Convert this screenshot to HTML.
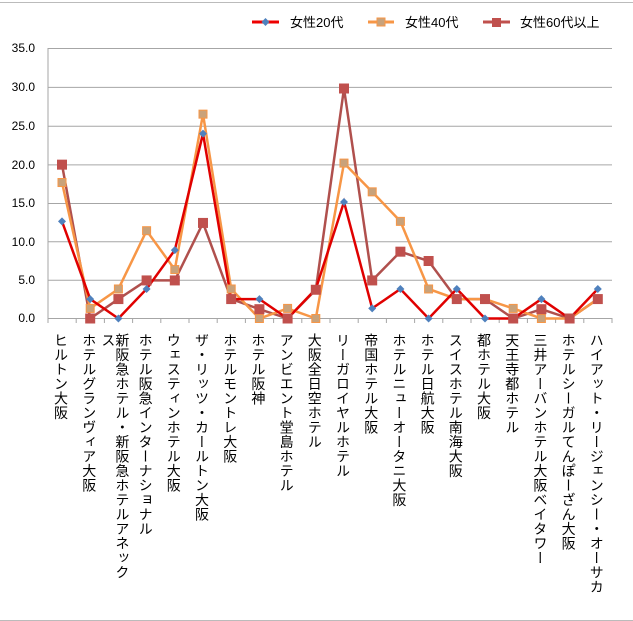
<!DOCTYPE html>
<html><head><meta charset="utf-8"><style>
body{margin:0;width:633px;height:621px;background:#fff;overflow:hidden;position:relative;font-family:"Liberation Sans","Noto Sans CJK JP",sans-serif}
.lab{position:absolute;top:333px;writing-mode:vertical-rl;font-size:14px;line-height:14px;color:#000;height:262px;transform:translateX(-50%);letter-spacing:0.5px}
</style></head><body>
<div style="position:absolute;left:0;top:2px;width:633px;height:617px;border-top:1px solid #bbb;border-bottom:1px solid #bbb"></div>
<svg width="633" height="621" style="position:absolute;left:0;top:0" font-family="Liberation Sans, sans-serif">
<g stroke="#a6a6a6" stroke-width="1">
<line x1="48" x2="612" y1="48.5" y2="48.5"/><line x1="48" x2="612" y1="87.4" y2="87.4"/><line x1="48" x2="612" y1="126.2" y2="126.2"/><line x1="48" x2="612" y1="164.9" y2="164.9"/><line x1="48" x2="612" y1="203.5" y2="203.5"/><line x1="48" x2="612" y1="241.8" y2="241.8"/><line x1="48" x2="612" y1="280.2" y2="280.2"/><line x1="48" x2="612" y1="318.5" y2="318.5"/>
<line x1="48" x2="48" y1="48" y2="322"/>
</g>
<g font-size="12" text-anchor="end" fill="#000">
<text x="35" y="52">35.0</text><text x="35" y="91">30.0</text><text x="35" y="130">25.0</text><text x="35" y="169">20.0</text><text x="35" y="207">15.0</text><text x="35" y="246">10.0</text><text x="35" y="284">5.0</text><text x="35" y="322">0.0</text>
</g>
<g id="ticks" stroke="#a6a6a6"></g>
<g id="series"></g>
<g>
<line x1="252" x2="279" y1="22" y2="22" stroke="#e00" stroke-width="3"/><path d="M265.5 18l4 4-4 4-4-4z" fill="#4f81bd"/>
<line x1="368" x2="394" y1="22" y2="22" stroke="#f79646" stroke-width="3"/><rect x="377" y="18" width="8" height="8" fill="#c9a27a" stroke="#f79646"/>
<line x1="483" x2="510" y1="22" y2="22" stroke="#c0504d" stroke-width="3"/><rect x="492" y="18" width="9" height="9" fill="#c0504d"/>
</g>
<g font-size="13" fill="#000" font-family="Liberation Sans, Noto Sans CJK JP, sans-serif">
<text x="290" y="27">女性20代</text><text x="405" y="27">女性40代</text><text x="520" y="27">女性60代以上</text>
</g>
</svg>
<div id="labs"></div>
<script>
var a=[12.5,2.5,0,3.8,8.8,23.8,2.5,2.5,0,3.8,15,1.3,3.8,0,3.8,0,0,2.5,0,3.8];
var b=[17.5,1.3,3.8,11.3,6.3,26.3,3.8,0,1.3,0,20,16.3,12.5,3.8,2.5,2.5,1.3,0,0,2.5];
var c=[19.8,0,2.5,4.9,4.9,12.3,2.5,1.2,0,3.7,29.6,4.9,8.6,7.4,2.5,2.5,0,1.2,0,2.5];
var names=["ヒルトン大阪","ホテルグランヴィア大阪","新阪急ホテル・新阪急ホテルアネックス","ホテル阪急インターナショナル","ウェスティンホテル大阪","ザ・リッツ・カールトン大阪","ホテルモントレ大阪","ホテル阪神","アンビエント堂島ホテル","大阪全日空ホテル","リーガロイヤルホテル","帝国ホテル大阪","ホテルニューオータニ大阪","ホテル日航大阪","スイスホテル南海大阪","都ホテル大阪","天王寺都ホテル","三井アーバンホテル大阪ベイタワー","ホテルシーガルてんぽーざん大阪","ハイアット・リージェンシー・オーサカ"];
function X(i){return 62+i*28.2}function Y(v){return 318.5-v*7.77}
var s='',t='';
for(var i=0;i<=20;i++){var x=48+i*28.2;t+='<line x1="'+x+'" x2="'+x+'" y1="318" y2="323"/>';}
function pl(d,col){return '<polyline fill="none" stroke="'+col+'" stroke-width="2.5" points="'+d.map(function(v,i){return X(i)+','+Y(v)}).join(' ')+'"/>';}
s+=pl(c,'#b0504d');s+=pl(b,'#f79646');s+=pl(a,'#e00000');
b.forEach(function(v,i){s+='<rect x="'+(X(i)-4)+'" y="'+(Y(v)-4)+'" width="8" height="8" fill="#c9a27a" stroke="#f79646"/>'});
a.forEach(function(v,i){s+='<path d="M'+X(i)+' '+(Y(v)-4)+'l4 4-4 4-4-4z" fill="#4f81bd"/>'});
c.forEach(function(v,i){s+='<rect x="'+(X(i)-5)+'" y="'+(Y(v)-5)+'" width="10" height="10" fill="#c0504d"/>'});
document.getElementById('series').innerHTML=s;document.getElementById('ticks').innerHTML=t;
var h='';names.forEach(function(n,i){h+='<div class="lab" style="left:'+(i==2?X(i)-3:X(i)-1)+'px;'+(i==2?'height:248px;':'')+'">'+n+'</div>'});
document.getElementById('labs').innerHTML=h;
</script>
</body></html>
